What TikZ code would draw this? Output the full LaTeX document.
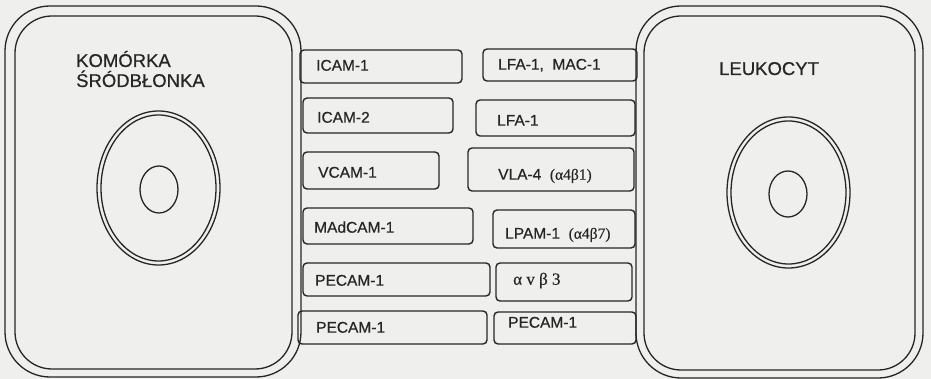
\documentclass[tikz,border=0pt]{standalone}
\usepackage{fontspec}
\setmainfont{Liberation Sans}[FakeBold=0.6]
\newfontfamily\grk{Liberation Serif}[FakeBold=0.4]
\definecolor{bg}{HTML}{EFEFED}
\definecolor{ink}{HTML}{262626}
\begin{document}
\begin{tikzpicture}[x=1pt,y=-1pt,
  cellline/.style={draw=ink,line width=1.3pt},
  molbox/.style={draw=ink,line width=1.4pt,rounded corners=4pt,inner sep=0pt},
  lbl/.style={anchor=base west,inner sep=0pt,text=ink,font=\fontsize{15.5}{18}\selectfont},
  head/.style={anchor=base west,inner sep=0pt,text=ink,font=\fontsize{18.5}{20}\selectfont}]
\useasboundingbox[fill=bg] (0,0) rectangle (931,379);
% left cell
\draw[cellline,rounded corners=45pt] (5,6) rectangle (301,377);
\draw[cellline,rounded corners=37pt] (15,16) rectangle (292,369);
\draw[cellline] (158.5,188) ellipse [x radius=61.5, y radius=77];
\draw[cellline] (158.5,188) ellipse [x radius=57.5, y radius=73];
\draw[cellline] (159,189.5) ellipse [x radius=19, y radius=23.5];
\node[head] (k1) at (76,67) {KOMÓRKA};
\node[head] (k2) at (76,87) {ŚRÓDBŁONKA};
% right cell
\draw[cellline,rounded corners=45pt] (636,6) rectangle (923,378);
\draw[cellline,rounded corners=37pt] (644,16) rectangle (915,370);
\draw[cellline] (788.5,192.5) ellipse [x radius=61.5, y radius=75.5];
\draw[cellline] (788.5,192.5) ellipse [x radius=57.5, y radius=71.5];
\draw[cellline] (788,194) ellipse [x radius=19, y radius=23];
\node[head] (leu) at (719,75) {LEUKOCYT};
% molecule boxes
\node[molbox,minimum width=162pt,minimum height=33pt] (b1) at (381,66.5) {};
\node[lbl] (t1) at (316,70.7) {ICAM-1};
\node[molbox,minimum width=154pt,minimum height=32pt] (b2) at (560,65) {};
\node[lbl] (t2) at (498,69.7) {LFA-1,\ \ MAC-1};
\node[molbox,minimum width=150pt,minimum height=35pt] (b3) at (378,115.5) {};
\node[lbl] (t3) at (317,122.7) {ICAM-2};
\node[molbox,minimum width=159pt,minimum height=36pt] (b4) at (555.5,118) {};
\node[lbl] (t4) at (497,125.7) {LFA-1};
\node[molbox,minimum width=136pt,minimum height=37pt] (b5) at (371,170.5) {};
\node[lbl] (t5) at (318,177.7) {VCAM-1};
\node[molbox,minimum width=166pt,minimum height=43pt] (b6) at (551,169.5) {};
\node[lbl] (t6) at (498,179.7) {VLA-4\ \ {\grk(α4β1)}};
\node[molbox,minimum width=170pt,minimum height=36pt] (b7) at (388,226) {};
\node[lbl] (t7) at (314,232.7) {MAdCAM-1};
\node[molbox,minimum width=142pt,minimum height=38pt] (b8) at (564,229) {};
\node[lbl] (t8) at (505,238.7) {LPAM-1\ \ {\grk(α4β7)}};
\node[molbox,minimum width=187pt,minimum height=33pt] (b9) at (396.5,279.5) {};
\node[lbl] (t9) at (315,285.7) {PECAM-1};
\node[molbox,minimum width=136pt,minimum height=38pt] (b10) at (564,282) {};
\node[lbl,font=\grk\fontsize{17}{18}\selectfont] (t10) at (513,284.7) {α v β 3};
\node[molbox,minimum width=189pt,minimum height=33pt] (b11) at (392.5,327.5) {};
\node[lbl] (t11) at (316,332.7) {PECAM-1};
\node[molbox,minimum width=142pt,minimum height=32pt] (b12) at (565,328) {};
\node[lbl] (t12) at (508,327.7) {PECAM-1};
\end{tikzpicture}
\end{document}
